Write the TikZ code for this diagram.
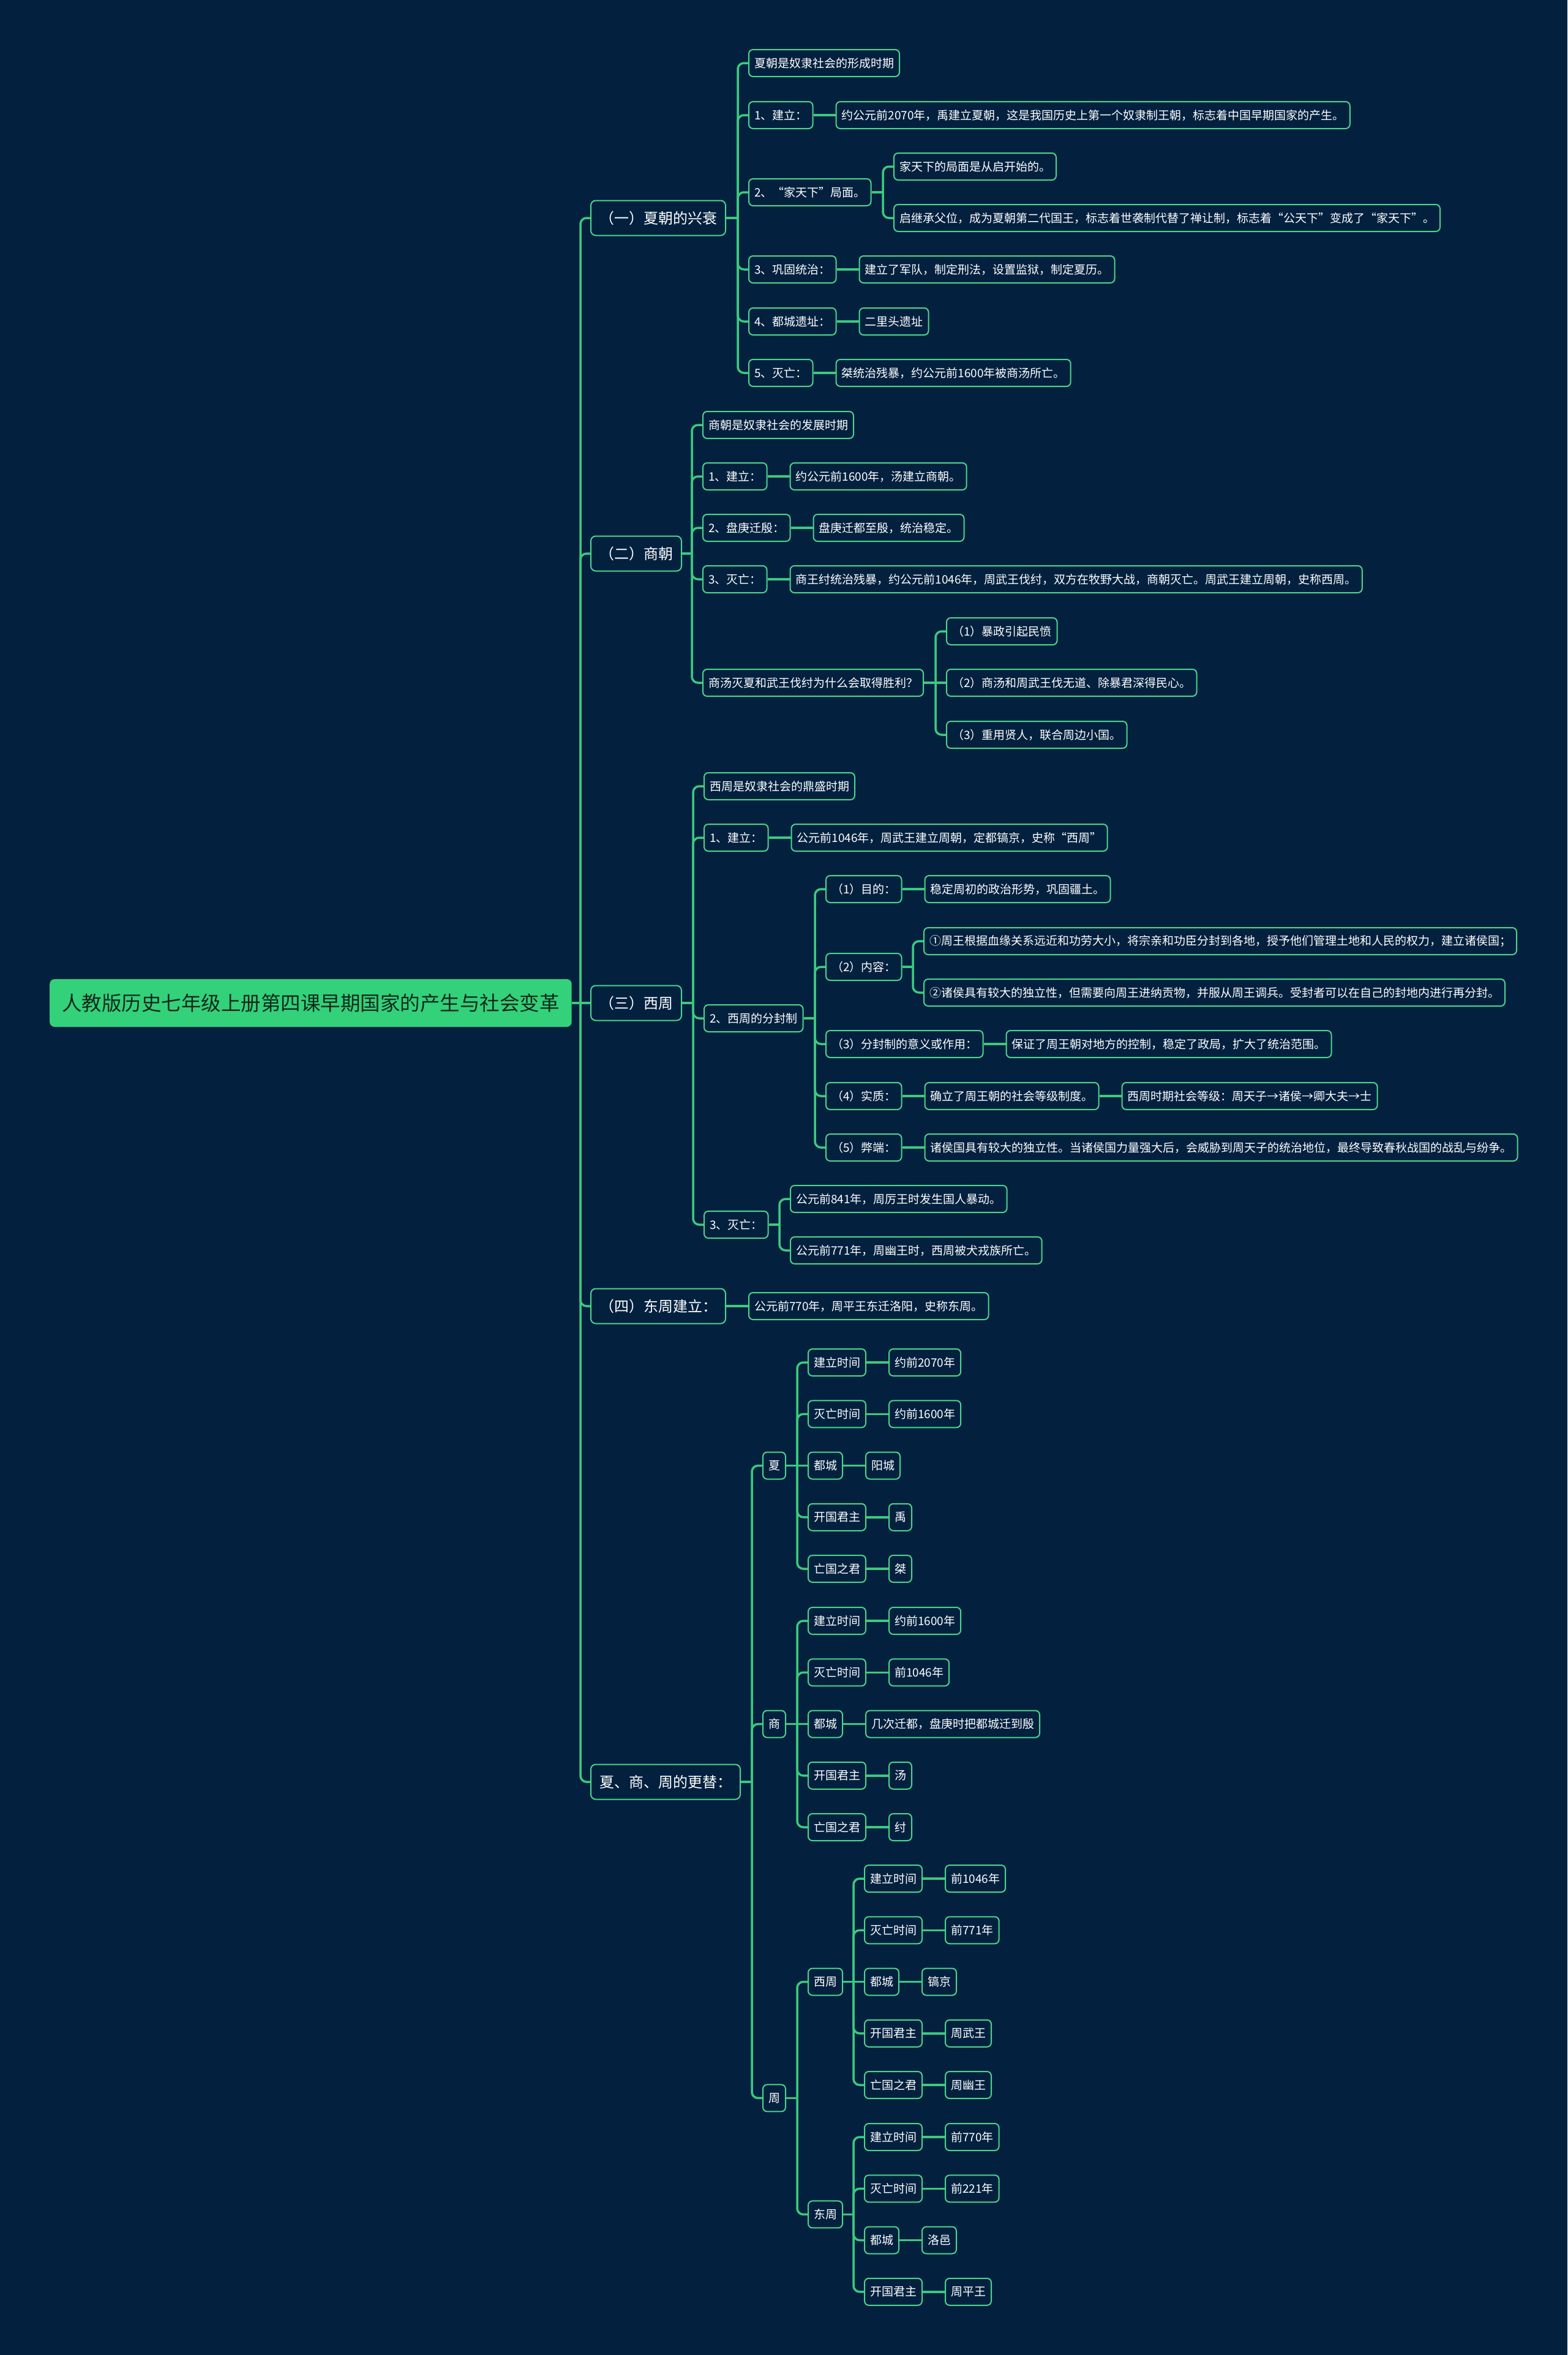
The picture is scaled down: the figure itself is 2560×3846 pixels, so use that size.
\documentclass[tikz,border=0pt]{standalone}
\usepackage{fontspec}
\usepackage{xcolor}
\usepackage{tikz}
\usetikzlibrary{positioning,calc}
\newfontfamily\cjk{Noto Sans CJK SC}
\definecolor{mapNavy}{HTML}{03213F}
\definecolor{mapGreen}{HTML}{3CC97F}
\definecolor{mapEdge}{HTML}{4CD38C}
\definecolor{mapRoot}{HTML}{33D17A}
\definecolor{mapInk}{HTML}{10291C}

\begin{document}
\begin{tikzpicture}[x=1pt,y=-1pt,
  root/.style={fill=mapRoot,rounded corners=8pt,text=mapInk,font=\cjk\fontsize{32.5}{38}\selectfont,
    inner xsep=20pt,inner ysep=4pt,minimum height=78pt,anchor=west},
  sec/.style={draw=mapEdge,line width=2pt,fill=mapNavy,rounded corners=8pt,text=white,
    font=\cjk\fontsize{24}{29}\selectfont,inner xsep=14pt,inner ysep=4pt,minimum height=57pt,anchor=west},
  leaf/.style={sec,rounded corners=7pt,font=\cjk\fontsize{19}{23}\selectfont,inner xsep=9pt,minimum height=44pt},
  link/.style={mapGreen,line width=3.5pt,rounded corners=10pt}]
  \fill[mapNavy] (0,0) rectangle (2560,3846);

  \node[root] (root) at (81,1638) {人教版历史七年级上册第四课早期国家的产生与社会变革};
  \node[sec] (s1) at (964,356) {（一）夏朝的兴衰};
  \node[sec] (s2) at (964,904) {（二）商朝};
  \node[sec] (s3) at (964,1638) {（三）西周};
  \node[sec] (s4) at (964,2133) {（四）东周建立：};
  \node[sec] (s5) at (964,2910) {夏、商、周的更替：};

  \node[leaf] (s1a) at (1222,103) {夏朝是奴隶社会的形成时期};
  \node[leaf] (s1b) at (1222,188) {1、建立：};
  \node[leaf,right=36pt of s1b] (s1bx) {约公元前2070年，禹建立夏朝，这是我国历史上第一个奴隶制王朝，标志着中国早期国家的产生。};
  \node[leaf] (s1c) at (1222,314) {2、“家天下”局面。};
  \node[leaf] (s1c1) at (1459,272) {家天下的局面是从启开始的。};
  \node[leaf] (s1c2) at (1459,356) {启继承父位，成为夏朝第二代国王，标志着世袭制代替了禅让制，标志着“公天下”变成了“家天下”。};
  \node[leaf] (s1d) at (1222,440) {3、巩固统治：};
  \node[leaf,right=36pt of s1d] (s1dx) {建立了军队，制定刑法，设置监狱，制定夏历。};
  \node[leaf] (s1e) at (1222,525) {4、都城遗址：};
  \node[leaf,right=36pt of s1e] (s1ex) {二里头遗址};
  \node[leaf] (s1f) at (1222,609) {5、灭亡：};
  \node[leaf,right=36pt of s1f] (s1fx) {桀统治残暴，约公元前1600年被商汤所亡。};

  \node[leaf] (s2a) at (1147,694) {商朝是奴隶社会的发展时期};
  \node[leaf] (s2b) at (1147,778) {1、建立：};
  \node[leaf,right=36pt of s2b] (s2bx) {约公元前1600年，汤建立商朝。};
  \node[leaf] (s2c) at (1147,862) {2、盘庚迁殷：};
  \node[leaf,right=36pt of s2c] (s2cx) {盘庚迁都至殷，统治稳定。};
  \node[leaf] (s2d) at (1147,946) {3、灭亡：};
  \node[leaf,right=36pt of s2d] (s2dx) {商王纣统治残暴，约公元前1046年，周武王伐纣，双方在牧野大战，商朝灭亡。周武王建立周朝，史称西周。};
  \node[leaf] (s2e) at (1147,1115) {商汤灭夏和武王伐纣为什么会取得胜利？};
  \node[leaf] (s2e1) at (1545,1031) {（1）暴政引起民愤};
  \node[leaf] (s2e2) at (1545,1115) {（2）商汤和周武王伐无道、除暴君深得民心。};
  \node[leaf] (s2e3) at (1545,1200) {（3）重用贤人，联合周边小国。};

  \node[leaf] (s3a) at (1149,1284) {西周是奴隶社会的鼎盛时期};
  \node[leaf] (s3b) at (1149,1368) {1、建立：};
  \node[leaf,right=36pt of s3b] (s3bx) {公元前1046年，周武王建立周朝，定都镐京，史称“西周”};
  \node[leaf] (s3c) at (1149,1663) {2、西周的分封制};
  \node[leaf] (s3c1) at (1348,1452) {（1）目的：};
  \node[leaf,right=36pt of s3c1] (s3c1x) {稳定周初的政治形势，巩固疆土。};
  \node[leaf] (s3c2) at (1348,1579) {（2）内容：};
  \node[leaf] (s3c2a) at (1508,1537) {①周王根据血缘关系远近和功劳大小，将宗亲和功臣分封到各地，授予他们管理土地和人民的权力，建立诸侯国；};
  \node[leaf] (s3c2b) at (1508,1621) {②诸侯具有较大的独立性，但需要向周王进纳贡物，并服从周王调兵。受封者可以在自己的封地内进行再分封。};
  \node[leaf] (s3c3) at (1348,1705) {（3）分封制的意义或作用：};
  \node[leaf,right=36pt of s3c3] (s3c3x) {保证了周王朝对地方的控制，稳定了政局，扩大了统治范围。};
  \node[leaf] (s3c4) at (1348,1790) {（4）实质：};
  \node[leaf,right=36pt of s3c4] (s3c4x) {确立了周王朝的社会等级制度。};
  \node[leaf,right=36pt of s3c4x] (s3c4y) {西周时期社会等级：周天子→诸侯→卿大夫→士};
  \node[leaf] (s3c5) at (1348,1874) {（5）弊端：};
  \node[leaf,right=36pt of s3c5] (s3c5x) {诸侯国具有较大的独立性。当诸侯国力量强大后，会威胁到周天子的统治地位，最终导致春秋战国的战乱与纷争。};
  \node[leaf] (s3d) at (1149,2000) {3、灭亡：};
  \node[leaf] (s3d1) at (1290,1958) {公元前841年，周厉王时发生国人暴动。};
  \node[leaf] (s3d2) at (1290,2042) {公元前771年，周幽王时，西周被犬戎族所亡。};

  \node[leaf,right=36pt of s4] (s4x) {公元前770年，周平王东迁洛阳，史称东周。};

  \node[leaf] (x1) at (1245,2393.5) {夏};
  \node[leaf] (x2) at (1245,2815.5) {商};
  \node[leaf] (x3) at (1245,3426.4) {周};
  \node[leaf] (x3a) at (1319,3236.5) {西周};
  \node[leaf] (x3b) at (1319,3616.4) {东周};

  \foreach \k/\v [count=\i from 0] in {建立时间/约前2070年,灭亡时间/约前1600年,都城/阳城,开国君主/禹,亡国之君/桀}{
    \node[leaf] (xk\i) at (1319,{2225+84.25*\i}) {\k};
    \node[leaf,right=36pt of xk\i] (xv\i) {\v};
    \draw[link] (xk\i) -- (xv\i);
  }
  \foreach \k/\v [count=\i from 0] in {建立时间/约前1600年,灭亡时间/前1046年,都城/几次迁都，盘庚时把都城迁到殷,开国君主/汤,亡国之君/纣}{
    \node[leaf] (sk\i) at (1319,{2647+84.25*\i}) {\k};
    \node[leaf,right=36pt of sk\i] (sv\i) {\v};
    \draw[link] (sk\i) -- (sv\i);
  }
  \foreach \k/\v [count=\i from 0] in {建立时间/前1046年,灭亡时间/前771年,都城/镐京,开国君主/周武王,亡国之君/周幽王}{
    \node[leaf] (wk\i) at (1411,{3068+84.25*\i}) {\k};
    \node[leaf,right=36pt of wk\i] (wv\i) {\v};
    \draw[link] (wk\i) -- (wv\i);
  }
  \foreach \k/\v [count=\i from 0] in {建立时间/前770年,灭亡时间/前221年,都城/洛邑,开国君主/周平王}{
    \node[leaf] (ek\i) at (1411,{3490+84.25*\i}) {\k};
    \node[leaf,right=36pt of ek\i] (ev\i) {\v};
    \draw[link] (ek\i) -- (ev\i);
  }

  \draw[link] (root.east) -- ($(root.east -| s1.west)+(-16,0)$) coordinate (b0);
  \foreach \c in {s1,s2,s4,s5} \draw[link] (b0) |- (\c.west);
  \draw[link] (b0) -- (s3.west);

  \draw[link] (s1.east) -- ($(s1.east -| s1a.west)+(-17,0)$) coordinate (b1);
  \foreach \c in {s1a,s1b,s1c,s1d,s1e,s1f} \draw[link] (b1) |- (\c.west);
  \draw[link] (s1c.east) -- ($(s1c.east -| s1c1.west)+(-17,0)$) coordinate (b1c);
  \foreach \c in {s1c1,s1c2} \draw[link] (b1c) |- (\c.west);
  \foreach \c in {s1b,s1d,s1e,s1f} \draw[link] (\c) -- (\c x);

  \draw[link] (s2.east) -- ($(s2.east -| s2a.west)+(-17,0)$) coordinate (b2);
  \foreach \c in {s2a,s2b,s2c,s2d,s2e} \draw[link] (b2) |- (\c.west);
  \foreach \c in {s2b,s2c,s2d} \draw[link] (\c) -- (\c x);
  \draw[link] (s2e.east) -- ($(s2e.east -| s2e1.west)+(-17,0)$) coordinate (b2e);
  \foreach \c in {s2e1,s2e3} \draw[link] (b2e) |- (\c.west);
  \draw[link] (b2e) -- (s2e2.west);

  \draw[link] (s3.east) -- ($(s3.east -| s3a.west)+(-17,0)$) coordinate (b3);
  \foreach \c in {s3a,s3b,s3c,s3d} \draw[link] (b3) |- (\c.west);
  \draw[link] (s3b) -- (s3bx);
  \draw[link] (s3c.east) -- ($(s3c.east -| s3c1.west)+(-17,0)$) coordinate (b3c);
  \foreach \c in {s3c1,s3c2,s3c3,s3c4,s3c5} \draw[link] (b3c) |- (\c.west);
  \foreach \c in {s3c1,s3c3,s3c4,s3c5} \draw[link] (\c) -- (\c x);
  \draw[link] (s3c4x) -- (s3c4y);
  \draw[link] (s3c2.east) -- ($(s3c2.east -| s3c2a.west)+(-17,0)$) coordinate (b3d);
  \foreach \c in {s3c2a,s3c2b} \draw[link] (b3d) |- (\c.west);
  \draw[link] (s3d.east) -- ($(s3d.east -| s3d1.west)+(-17,0)$) coordinate (b3e);
  \foreach \c in {s3d1,s3d2} \draw[link] (b3e) |- (\c.west);

  \draw[link] (s4) -- (s4x);

  \draw[link] (s5.east) -- ($(s5.east -| x1.west)+(-17,0)$) coordinate (b5);
  \foreach \c in {x1,x2,x3} \draw[link] (b5) |- (\c.west);
  \draw[link] (x1.east) -- ($(x1.east -| xk0.west)+(-17,0)$) coordinate (bx);
  \foreach \i in {0,1,3,4} \draw[link] (bx) |- (xk\i.west);
  \draw[link] (bx) -- (xk2.west);
  \draw[link] (x2.east) -- ($(x2.east -| sk0.west)+(-17,0)$) coordinate (bs);
  \foreach \i in {0,1,3,4} \draw[link] (bs) |- (sk\i.west);
  \draw[link] (bs) -- (sk2.west);
  \draw[link] (x3.east) -- ($(x3.east -| x3a.west)+(-17,0)$) coordinate (bz);
  \foreach \c in {x3a,x3b} \draw[link] (bz) |- (\c.west);
  \draw[link] (x3a.east) -- ($(x3a.east -| wk0.west)+(-17,0)$) coordinate (bw);
  \foreach \i in {0,1,3,4} \draw[link] (bw) |- (wk\i.west);
  \draw[link] (bw) -- (wk2.west);
  \draw[link] (x3b.east) -- ($(x3b.east -| ek0.west)+(-17,0)$) coordinate (be);
  \foreach \i in {0,1,2,3} \draw[link] (be) |- (ek\i.west);
\end{tikzpicture}
\end{document}
